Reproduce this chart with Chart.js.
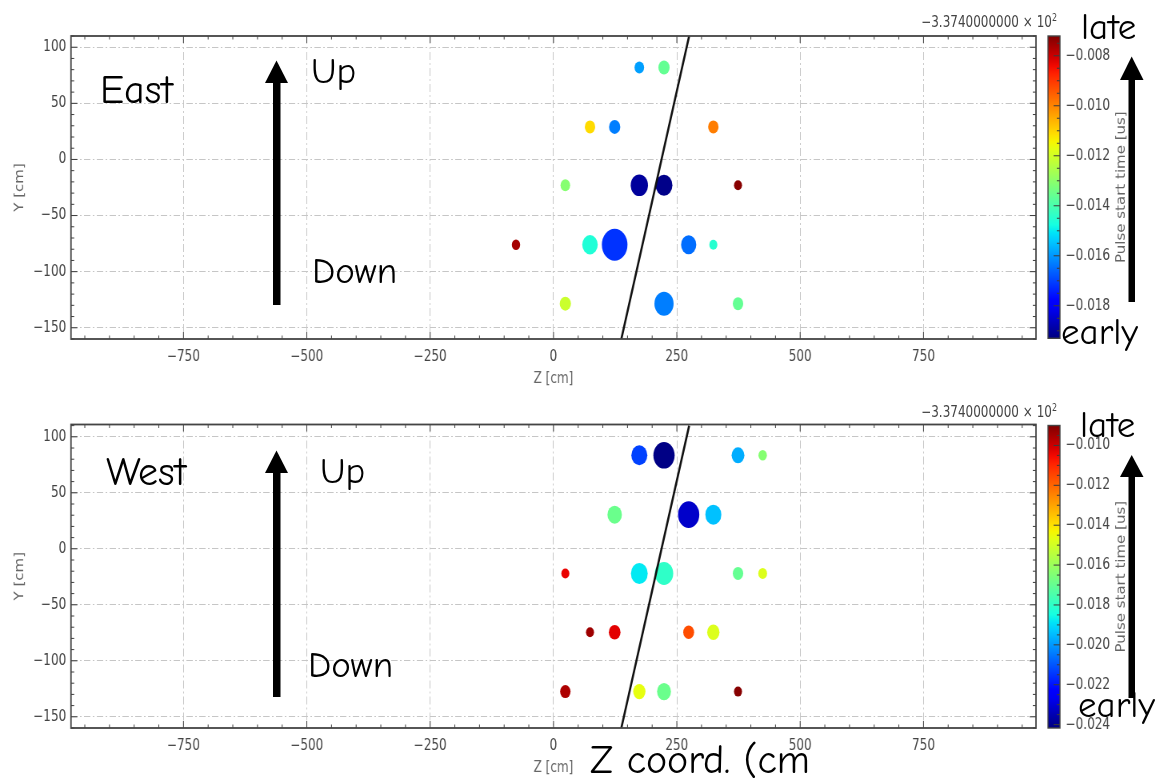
<!DOCTYPE html>
<html>
<head>
<meta charset="utf-8">
<script src="https://cdn.jsdelivr.net/npm/chart.js@4.4.1/dist/chart.umd.min.js"></script>
<style>
  html, body { margin: 0; padding: 0; background: #fff; }
  #stage { position: relative; width: 1176px; height: 779px; overflow: hidden; background: #fff; }
  .squeeze { position: absolute; transform: scaleX(0.8); transform-origin: 0 0; }
  .squeeze canvas { display: block; }
  #notes { position: absolute; left: 0; top: 0; pointer-events: none; }
  #notes .hand { font-family: "Comic Sans MS", "Comic Neue", "Noto Sans", sans-serif; fill: #000; }
  #notes .offset { font-family: "DejaVu Sans", sans-serif; font-size: 15px; fill: #444; }
</style>
</head>
<body>
<div id="stage">
  <div class="squeeze" style="left:0;top:0"><canvas id="eastMain" width="1306" height="390"></canvas></div>
  <div class="squeeze" style="left:1040px;top:0"><canvas id="eastBar" width="170" height="390"></canvas></div>
  <div class="squeeze" style="left:0;top:390px"><canvas id="westMain" width="1306" height="389"></canvas></div>
  <div class="squeeze" style="left:1040px;top:390px"><canvas id="westBar" width="170" height="389"></canvas></div>

  <svg id="notes" width="1176" height="779" viewBox="0 0 1176 779">
    <text class="offset" text-anchor="end" transform="translate(1057,26.5) scale(0.8,1)">−3.3740000000 × 10<tspan dy="-6" font-size="10">2</tspan></text>
    <text class="offset" text-anchor="end" transform="translate(1057,416.5) scale(0.8,1)">−3.3740000000 × 10<tspan dy="-6" font-size="10">2</tspan></text>

    <!-- east panel notes -->
    <text class="hand" x="100" y="102.5" font-size="40">East</text>
    <text class="hand" x="311" y="83" font-size="37">Up</text>
    <text class="hand" x="312" y="283" font-size="37">Down</text>
    <rect x="273" y="82" width="7.5" height="223"/>
    <polygon points="265,83 288,83 276.5,60.5"/>
    <text class="hand" x="1081" y="38.5" font-size="37">late</text>
    <text class="hand" x="1061" y="343.5" font-size="37">early</text>
    <rect x="1128.5" y="79" width="6.5" height="223"/>
    <polygon points="1120,80 1143.5,80 1131.7,56.5"/>

    <!-- west panel notes -->
    <text class="hand" x="106" y="485" font-size="40">West</text>
    <text class="hand" x="320" y="483" font-size="37">Up</text>
    <text class="hand" x="308" y="676.5" font-size="37">Down</text>
    <rect x="273" y="472" width="7.5" height="225"/>
    <polygon points="265,473 288,473 276.5,450.5"/>
    <text class="hand" x="1080" y="436.5" font-size="37">late</text>
    <text class="hand" x="1078" y="716.5" font-size="37">early</text>
    <rect x="1128.5" y="476" width="6.5" height="222"/>
    <polygon points="1120,477 1143.5,477 1131.7,455"/>

    <text class="hand" x="590" y="773" font-size="40">Z coord. (cm</text>
  </svg>
</div>

<script>
// hit positions on the east wall (Z, Y in cm), pulse start time (us, offset -337.4) and pulse amplitude
const eastZ = [174, 224, 74, 124, 324, 24, 174, 224, 374, -76, 74, 124, 274, 324, 24, 224, 374];
const eastY = [82, 82, 29, 29, 29, -23, -23, -23, -23, -76, -76, -76, -76, -76, -128.5, -128.5, -128.5];
const eastT = [-0.0159, -0.0136, -0.0111, -0.0163, -0.0099, -0.0131, -0.0190, -0.0192, -0.0073,
               -0.0076, -0.0146, -0.0172, -0.0165, -0.0145, -0.0121, -0.0163, -0.0136];
const eastAmp = [9, 12.3, 10.6, 12.3, 10.6, 9, 29.2, 27.6, 6.3, 6.8, 23.5, 64, 22.6, 6.3, 12.3, 36, 10.6];

// same for the west wall
const westZ = [174, 224, 374, 424, 124, 274, 324, 24, 174, 224, 374, 424, 74, 124, 274, 324, 24, 174, 224, 374];
const westY = [83.5, 83.5, 83.5, 83.5, 30.5, 30.5, 30.5, -22, -22, -22, -22, -22,
               -74.5, -74.5, -74.5, -74.5, -127.5, -127.5, -127.5, -127.5];
const westT = [-0.0213, -0.0241, -0.0197, -0.0164, -0.0169, -0.0232, -0.0194, -0.0104, -0.0188, -0.0180,
               -0.0170, -0.0148, -0.0094, -0.0103, -0.0116, -0.0148, -0.0096, -0.0146, -0.0169, -0.0091];
const westAmp = [25, 44.2, 16, 7, 20.3, 44.2, 25, 6.3, 27.6, 33.1, 10.6, 7.6, 6.3, 13.3, 11.6, 14.8, 10.6, 14.8, 18.9, 6.3];

// fitted track through the wall
const trackZ = [137.5, 275];
const trackY = [-160, 110];

// colour scale limits (us)
const eastTimeRange = [-0.0193, -0.00721];
const westTimeRange = [-0.02417, -0.0090];

const zRange = [-978, 978];
const zTickValues = [-750, -500, -250, 0, 250, 500, 750];
const eastYRange = [-160, 110];
const westYRange = [-160, 111];

Chart.defaults.font.family = 'DejaVu Sans';
Chart.defaults.font.size = 15;
Chart.defaults.color = '#444';

// matplotlib "jet"
const jetR = [[0, 0], [0.35, 0], [0.66, 1], [0.89, 1], [1, 0.5]];
const jetG = [[0, 0], [0.125, 0], [0.375, 1], [0.64, 1], [0.91, 0], [1, 0]];
const jetB = [[0, 0.5], [0.11, 1], [0.34, 1], [0.65, 0], [1, 0]];
function seg(s, t) {
    for (let i = 1; i < s.length; i++) {
        if (t <= s[i][0]) {
            const f = (t - s[i - 1][0]) / (s[i][0] - s[i - 1][0]);
            return s[i - 1][1] + f * (s[i][1] - s[i - 1][1]);
        }
    }
    return s[s.length - 1][1];
}
function jet(t) {
    t = Math.min(1, Math.max(0, t));
    const c = v => Math.round(255 * v);
    return `rgb(${c(seg(jetR, t))},${c(seg(jetG, t))},${c(seg(jetB, t))})`;
}

const minus = v => (v < 0 ? '\u2212' : '');
const ampToRadius = a => 2 * Math.sqrt(a);

// box around the plot area with inward major/minor ticks (matplotlib look)
const framePlugin = {
    id: 'frame',
    afterDraw(chart, args, o) {
        const { ctx, chartArea: a } = chart;
        const line = (x1, y1, x2, y2) => { ctx.beginPath(); ctx.moveTo(x1, y1); ctx.lineTo(x2, y2); ctx.stroke(); };
        const walk = (scale, minor, major, fn) => {
            const k0 = Math.ceil(scale.min / minor - 1e-9), k1 = Math.floor(scale.max / minor + 1e-9);
            const every = Math.round(major / minor);
            for (let k = k0; k <= k1; k++) fn(scale.getPixelForValue(k * minor), k % every === 0);
        };
        ctx.save();
        ctx.strokeStyle = '#3a3a3a';
        ctx.lineWidth = 1;
        if (o.x) {
            walk(chart.scales.x, o.x[0], o.x[1], (p, big) => {
                const l = big ? 7 : 3.5;
                line(p, a.bottom, p, a.bottom - l);
                line(p, a.top, p, a.top + l);
            });
        }
        if (o.y) {
            walk(chart.scales.y, o.y[0], o.y[1], (p, big) => {
                const l = big ? 8 : 4;
                if (!o.rightOnly) line(a.left, p, a.left + l, p);
                line(a.right, p, a.right - l, p);
            });
        }
        ctx.lineWidth = o.width || 1.8;
        ctx.strokeStyle = '#444';
        ctx.strokeRect(a.left, a.top, a.right - a.left, a.bottom - a.top);
        ctx.restore();
    }
};

// colorbar label reads bottom to top
const cbarTitlePlugin = {
    id: 'cbarTitle',
    afterDraw(chart, args, o) {
        if (!o.text) return;
        const { ctx, chartArea: a } = chart;
        ctx.save();
        ctx.translate(o.x, (a.top + a.bottom) / 2);
        ctx.rotate(-Math.PI / 2);
        ctx.font = '15px "DejaVu Sans"';
        ctx.fillStyle = '#666';
        ctx.textAlign = 'center';
        ctx.textBaseline = 'middle';
        ctx.fillText(o.text, 0, 0);
        ctx.restore();
    }
};
Chart.register(framePlugin, cbarTitlePlugin);

function wallChart(id, zs, ys, ts, amps, yRange, tRange, padTop, axisH) {
    const pts = zs.map((z, i) => ({ x: z, y: ys[i] }));
    const norm = t => (t - tRange[0]) / (tRange[1] - tRange[0]);
    const dash = [8, 3, 2, 3];
    return new Chart(document.getElementById(id), {
        type: 'scatter',
        data: {
            datasets: [{
                type: 'line',
                data: trackZ.map((z, i) => ({ x: z, y: trackY[i] })),
                borderColor: '#111',
                borderWidth: 2.6,
                pointRadius: 0,
                order: 0
            }, {
                data: pts,
                pointRadius: amps.map(ampToRadius),
                pointHoverRadius: amps.map(ampToRadius),
                pointBackgroundColor: ts.map(t => jet(norm(t))),
                pointBorderWidth: 0,
                order: 1
            }]
        },
        options: {
            responsive: false,
            animation: false,
            events: [],
            layout: { padding: { left: 0, right: 11, top: padTop, bottom: 0 }, autoPadding: false },
            plugins: {
                legend: { display: false },
                tooltip: { enabled: false },
                frame: { x: [50, 250], y: [10, 50] }
            },
            scales: {
                x: {
                    type: 'linear',
                    min: zRange[0], max: zRange[1],
                    afterFit: s => { s.height = axisH; },
                    afterBuildTicks: s => { s.ticks = zTickValues.map(v => ({ value: v })); },
                    ticks: { padding: 9, color: '#444', callback: v => minus(v) + Math.abs(v) },
                    grid: { color: '#c6c6c6', lineWidth: 1, drawTicks: false },
                    border: { display: false, dash: dash },
                    title: { display: true, text: 'Z [cm]', color: '#666', padding: { top: 0, bottom: 2 } }
                },
                y: {
                    min: yRange[0], max: yRange[1],
                    afterFit: s => { s.width = 88.75; },
                    ticks: { stepSize: 50, includeBounds: false, padding: 6, color: '#444',
                             callback: v => minus(v) + Math.abs(v) },
                    grid: { color: '#c6c6c6', lineWidth: 1, drawTicks: false },
                    border: { display: false, dash: dash },
                    title: { display: true, text: 'Y [cm]', color: '#666', padding: { top: 16, bottom: 0 } }
                }
            }
        }
    });
}

function colorBar(id, tRange, padTop, padBottom) {
    const gradient = ctx => {
        const area = ctx.chart.chartArea;
        if (!area) return '#888';
        const g = ctx.chart.ctx.createLinearGradient(0, area.bottom, 0, area.top);
        for (let i = 0; i <= 40; i++) g.addColorStop(i / 40, jet(i / 40));
        return g;
    };
    return new Chart(document.getElementById(id), {
        type: 'bar',
        data: {
            labels: [''],
            datasets: [{
                data: [tRange],
                backgroundColor: gradient,
                borderWidth: 0,
                barPercentage: 1,
                categoryPercentage: 1
            }]
        },
        options: {
            responsive: false,
            animation: false,
            events: [],
            layout: { padding: { left: 10, right: 0, top: padTop, bottom: padBottom }, autoPadding: false },
            plugins: {
                legend: { display: false },
                tooltip: { enabled: false },
                frame: { y: [0.0005, 0.002], rightOnly: true, width: 1.4 },
                cbarTitle: { text: 'Pulse start time [us]', x: 102.5 }
            },
            scales: {
                x: { display: false },
                y: {
                    position: 'right',
                    beginAtZero: false,
                    min: tRange[0], max: tRange[1],
                    afterFit: s => { s.width = 145; },
                    grid: { display: false, drawTicks: false },
                    border: { display: false },
                    ticks: { stepSize: 0.002, includeBounds: false, padding: 7, color: '#444',
                             callback: v => minus(v) + Math.abs(v).toFixed(3) }
                }
            }
        }
    });
}

wallChart('eastMain', eastZ, eastY, eastT, eastAmp, eastYRange, eastTimeRange, 36, 51);
colorBar('eastBar', eastTimeRange, 36, 51.7);
wallChart('westMain', westZ, westY, westT, westAmp, westYRange, westTimeRange, 34.5, 51);
colorBar('westBar', westTimeRange, 35.5, 51);
</script>
</body>
</html>
